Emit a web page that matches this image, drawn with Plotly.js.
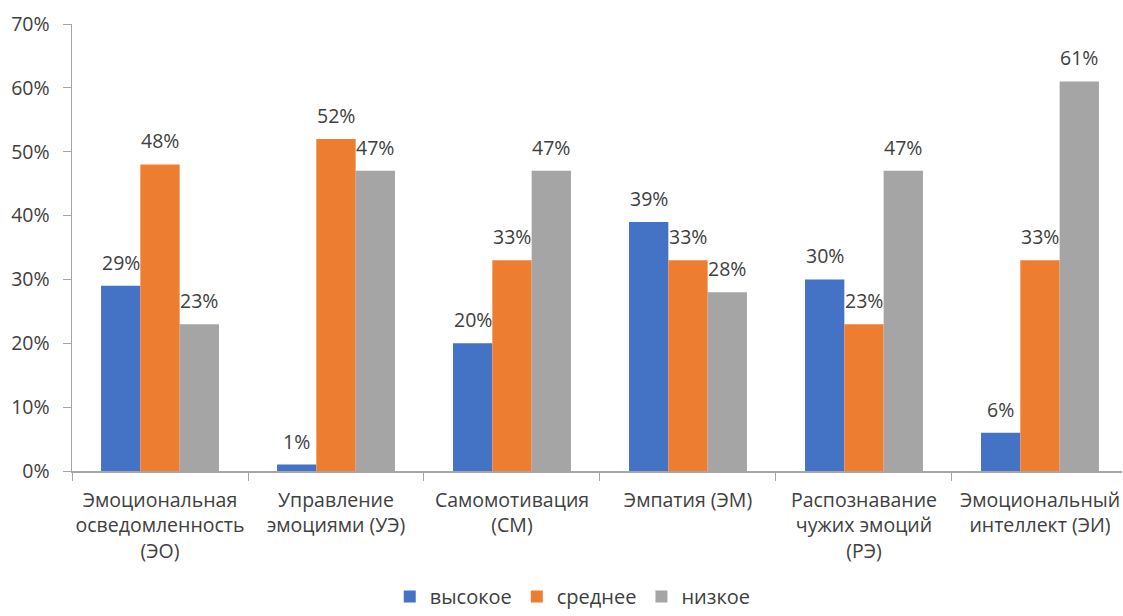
<!DOCTYPE html>
<html>
<head>
<meta charset="utf-8">
<script src="https://cdn.plot.ly/plotly-3.0.1.min.js"></script>
<style>html,body{margin:0;padding:0;background:#fff;}#chart{width:1123px;height:616px;}</style>
</head>
<body>
<div id="chart"></div>
<script>
const categories = [
  "Эмоциональная<br>осведомленность<br>(ЭО)",
  "Управление<br>эмоциями (УЭ)",
  "Самомотивация<br>(СМ)",
  "Эмпатия (ЭМ)",
  "Распознавание<br>чужих эмоций<br>(РЭ)",
  "Эмоциональный<br>интеллект (ЭИ)"
];
const seriesNames = ["высокое", "среднее", "низкое"];
const high = [29, 1, 20, 39, 30, 6];
const mid = [48, 52, 33, 33, 23, 33];
const low = [23, 47, 47, 28, 47, 61];
const colors = ["#4472C4", "#ED7D31", "#A5A5A5"];
const yTicks = [0, 10, 20, 30, 40, 50, 60, 70];

const BARGAP = 0.33;
const FS = 19.5;
const fam = "Open Sans, DejaVu Sans, sans-serif";
const txtColor = "#404040";
const allSeries = [high, mid, low];

const traces = allSeries.map((vals, i) => ({
  type: "bar",
  name: seriesNames[i],
  x: categories,
  y: vals,
  marker: {color: colors[i]},
  hoverinfo: "none"
}));

// data labels placed at each bar's top via the axis scales
const nS = allSeries.length;
const bw = (1 - BARGAP) / nS;
const annotations = [];
allSeries.forEach((vals, i) => {
  vals.forEach((v, j) => {
    annotations.push({
      xref: "x", yref: "y",
      x: j + (i - (nS - 1) / 2) * bw,
      y: v,
      text: v + "%",
      showarrow: false,
      yanchor: "bottom",
      yshift: 8,
      font: {family: fam, size: FS, color: txtColor}
    });
  });
});

const layout = {
  width: 1123, height: 616,
  margin: {l: 72, r: 1, t: 24, b: 145, autoexpand: false},
  paper_bgcolor: "#fff", plot_bgcolor: "#fff",
  font: {family: fam, size: FS, color: txtColor},
  barmode: "group",
  bargap: BARGAP,
  bargroupgap: 0,
  showlegend: true,
  legend: {orientation: "h", x: 0.51, xref: "container", xanchor: "center", y: 0.0, yref: "container", yanchor: "bottom",
           font: {size: 20, color: txtColor}, traceorder: "normal"},
  annotations: annotations,
  xaxis: {
    type: "category",
    range: [-0.5, 5.466],
    showline: true, linecolor: "#a6a6a6", linewidth: 1.5,
    ticks: "outside", tickson: "boundaries", ticklen: 8, tickcolor: "#a6a6a6",
    ticklabelstandoff: 11,
    tickangle: 0,
    showgrid: false, tickfont: {size: FS, color: txtColor}
  },
  yaxis: {
    range: [0, 70],
    tickvals: yTicks,
    ticktext: yTicks.map(v => v + "%"),
    showline: true, linecolor: "#a6a6a6", linewidth: 1.5,
    ticks: "outside", ticklen: 8, tickcolor: "#a6a6a6",
    ticklabelstandoff: 9,
    showgrid: false, zeroline: false,
    tickfont: {size: FS, color: txtColor}
  }
};
Plotly.newPlot("chart", traces, layout, {displayModeBar: false, staticPlot: true});
</script>
</body>
</html>
